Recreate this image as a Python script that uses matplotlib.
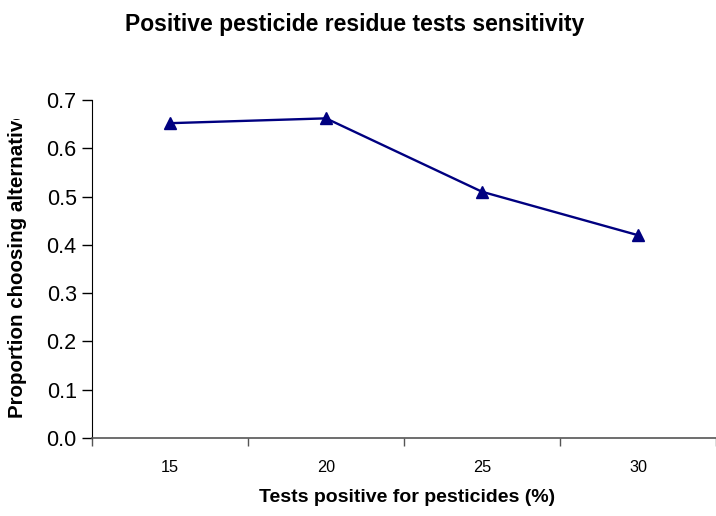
import matplotlib
matplotlib.use("Agg")
import matplotlib.pyplot as plt
from matplotlib.patches import Rectangle

plt.rcParams['font.family'] = ['Liberation Sans', 'DejaVu Sans']

categories = ["15", "20", "25", "30"]
values = [0.652, 0.662, 0.51, 0.42]
yticks = [0.0, 0.1, 0.2, 0.3, 0.4, 0.5, 0.6, 0.7]

W, H = 716, 516
fig = plt.figure(figsize=(W/100, H/100), dpi=100)
ax = fig.add_axes([92/W, 1-438/H, (716-92)/W, (438-100)/H])

x = list(range(len(categories)))
ax.plot(x, values, color='#000080', lw=1.7, marker='^', markersize=9,
        markerfacecolor='#000080', markeredgecolor='#000080', clip_on=False)

ax.set_xlim(-0.5, len(categories) - 0.5)
ax.set_ylim(0, 0.7)
ax.set_yticks(yticks)
ax.set_yticklabels([f"{v:.1f}" for v in yticks], fontsize=15.5)
ax.set_xticks([i - 0.5 for i in range(len(categories) + 1)])
ax.set_xticklabels([])
ax.set_xticks(x, minor=True)
ax.set_xticklabels(categories, minor=True, fontsize=11.7)
ax.tick_params(axis='x', which='minor', length=0, pad=16)
ax.tick_params(axis='x', which='major', length=6, width=1, color='#555555', direction='out')
ax.tick_params(axis='y', length=7, width=1, direction='out', pad=4)

for s in ['top', 'right']:
    ax.spines[s].set_visible(False)
ax.spines['left'].set_color('black')
ax.spines['bottom'].set_color('#555555')
ax.spines['bottom'].set_linewidth(1.2)

fig.text(407/W, 1-498/H, "Tests positive for pesticides (%)",
         fontsize=14, fontweight='bold', ha='center', va='center')

fig.text(355/W, 1-25/H, "Positive pesticide residue tests sensitivity",
         fontsize=16.5, fontweight='bold', ha='center', va='center')

yl = fig.text(18/W, 1-418/H, "Proportion choosing alternatives",
              fontsize=14.8, fontweight='bold', rotation=90, ha='center', va='bottom')
clip = Rectangle((0, 1-440/H), 1, (440-119)/H, transform=fig.transFigure)
yl.set_clip_path(clip)

fig.savefig("out.png", dpi=100)
